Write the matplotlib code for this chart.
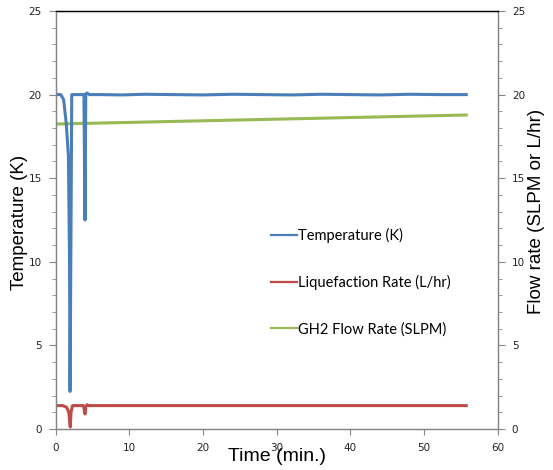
"""Temperature, liquefaction rate and GH2 flow rate vs time (twin y axes)."""

import matplotlib

matplotlib.use("Agg")
import matplotlib.pyplot as plt
from matplotlib.ticker import MultipleLocator

temp_t = [0, 0.7, 1.1, 1.45, 1.75, 1.9, 1.97, 2.1, 2.2, 2.6, 3.0, 3.5, 3.85, 4.0, 4.1,
          4.25, 4.6, 6, 9, 12, 16, 20, 24, 28, 32, 36, 40, 44, 48, 52, 55.7]
temp_k = [20.0, 20.0, 19.7, 18.3, 16.3, 10.0, 2.25, 12.0, 20.0, 20.0, 20.0, 20.0, 20.0, 12.5, 20.0,
          20.1, 20.0, 20.0, 19.98, 20.02, 20.0, 19.98, 20.02, 20.0, 19.98, 20.02, 20.0, 19.98, 20.02, 20.0, 20.0]

liq_t = [0, 1.0, 1.5, 1.8, 1.95, 2.0, 2.1, 2.3, 3.8, 3.95, 4.0, 4.1, 4.25, 4.5, 55.7]
liq_rate = [1.4, 1.4, 1.3, 1.0, 0.3, 0.12, 1.0, 1.4, 1.4, 1.0, 0.9, 1.3, 1.45, 1.4, 1.4]

gh2_t = [0, 55.7]
gh2_flow = [18.24, 18.78]

C_TEMP = "#4A7EBB"
C_LIQ = "#BE4B48"
C_GH2 = "#98B954"
AXIS_GREY = "#868686"

fig = plt.figure(figsize=(5.53, 4.70), dpi=100)
ax = fig.add_axes([0.1004, 0.0872, 0.8001, 0.8894])
ax2 = ax.twinx()

ax.plot(temp_t, temp_k, color=C_TEMP, lw=2.2, label="Temperature (K)", zorder=3)
ax.plot(liq_t, liq_rate, color=C_LIQ, lw=2.2, label="Liquefaction Rate (L/hr)", zorder=3)
ax.plot(gh2_t, gh2_flow, color=C_GH2, lw=2.2, label="GH2 Flow Rate (SLPM)", zorder=2)

for a in (ax, ax2):
    a.set_ylim(0, 25)
    a.yaxis.set_major_locator(MultipleLocator(5))
    a.yaxis.set_minor_locator(MultipleLocator(1))
    a.tick_params(axis="y", which="major", direction="out", length=5, width=0.8,
                  color=AXIS_GREY, labelsize=7.5, labelcolor="#222222", pad=5)
    a.tick_params(axis="y", which="minor", direction="out", length=3, width=0.6, color=AXIS_GREY)
    for side in ("left", "right", "bottom"):
        a.spines[side].set_color(AXIS_GREY)
        a.spines[side].set_linewidth(0.9)
    a.spines["top"].set_color("black")
    a.spines["top"].set_linewidth(0.9)

ax.set_xlim(0, 60)
ax.xaxis.set_major_locator(MultipleLocator(10))
ax.tick_params(axis="x", direction="out", length=4, width=0.8, color=AXIS_GREY,
               labelsize=7.5, labelcolor="#222222", pad=6)

font_lbl = {"family": ["Liberation Sans", "DejaVu Sans"], "size": 13.5}
ax.set_xlabel("Time (min.)", fontdict={**font_lbl, "size": 14})
ax.set_ylabel("Temperature (K)", fontdict=font_lbl)
ax2.set_ylabel("Flow rate (SLPM or L/hr)", fontdict=font_lbl, rotation=90)
ax.xaxis.set_label_coords(0.5, -0.045)
ax.yaxis.set_label_coords(-0.063, 0.494)
ax2.yaxis.set_label_coords(1.067, 0.52)

leg = ax.legend(loc="upper left", bbox_to_anchor=(0.487, 0.481), frameon=False,
                borderpad=0, borderaxespad=0,
                handlelength=1.75, handletextpad=0.1, labelspacing=2.2,
                prop={"family": ["Lato", "DejaVu Sans"], "size": 10.5})
for line in leg.get_lines():
    line.set_linewidth(1.6)

fig.savefig("out.png", dpi=100)
